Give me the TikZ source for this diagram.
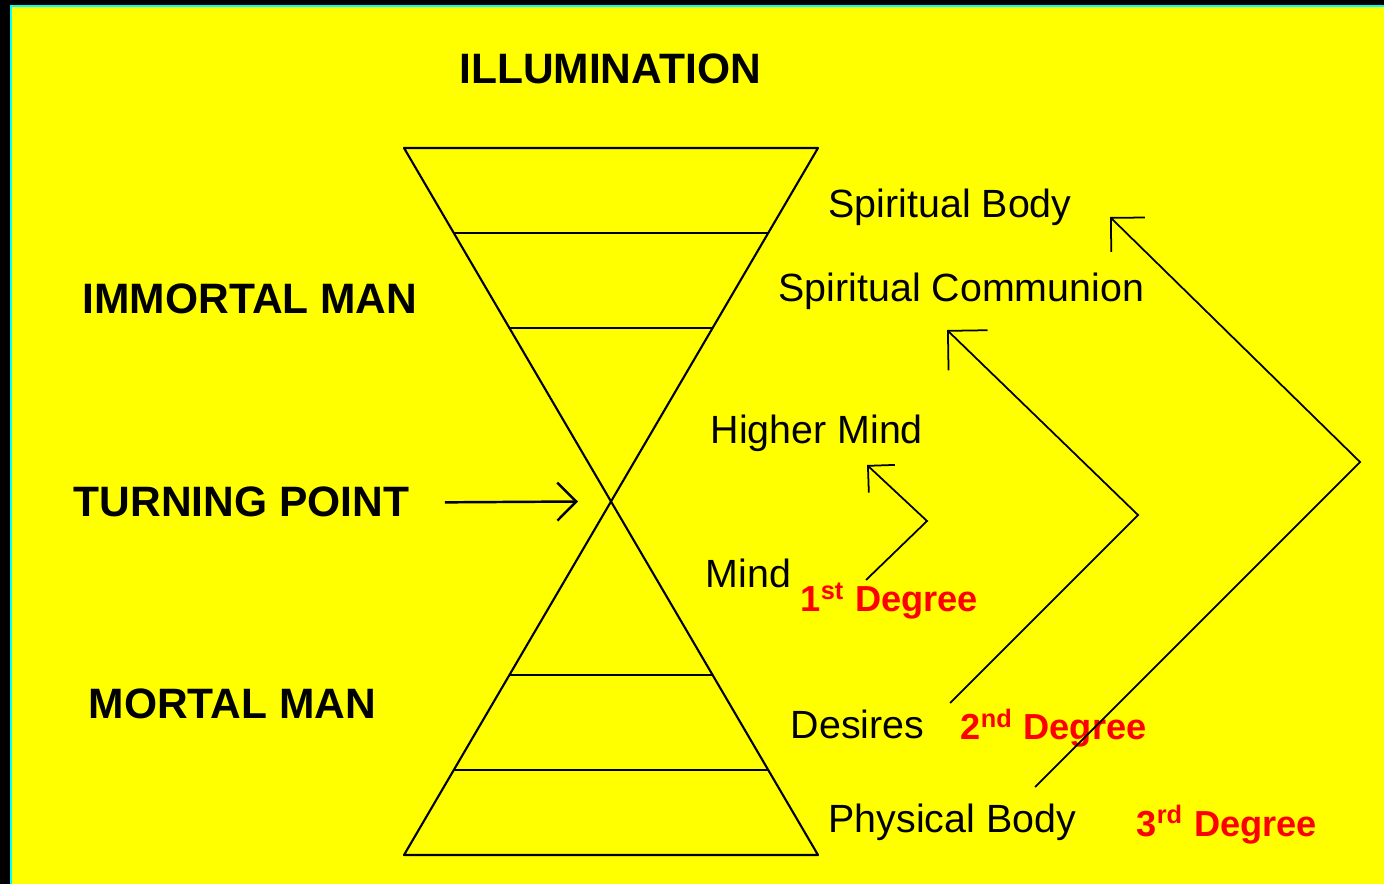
\documentclass[tikz,border=0pt]{standalone}
\usepackage{fontspec}
\setmainfont{Liberation Sans}
\usetikzlibrary{arrows.meta,calc}
\usepackage{tkz-euclide}
\definecolor{BackClr}{rgb}{1,1,0}
\definecolor{EdgeClr}{rgb}{0,1,1}
\definecolor{DegreeClr}{rgb}{1,0,0}
\tikzset{
  stage/.style={font=\fontsize{12.1}{14}\selectfont\bfseries,inner sep=0pt,anchor=base west},
  level/.style={font=\fontsize{11.2}{13}\selectfont,inner sep=0pt,anchor=base west},
  degree/.style={font=\fontsize{10.3}{12}\selectfont\bfseries,text=DegreeClr,inner sep=0pt,anchor=base west},
  rise/.style={line width=.5pt}
}

\begin{document}
\begin{tikzpicture}
\useasboundingbox (0,0) rectangle (13.84,8.84);
\fill[black] (0,0) rectangle (13.84,8.84);
\fill[EdgeClr] (.10,0) rectangle (13.84,8.79);
\fill[BackClr] (.12,0) rectangle (13.84,8.77);

\tkzSetUpLine[line width=.6pt,color=black]

% hourglass
\tkzDefPoints{4.04/7.36/A,8.18/7.36/B,4.04/0.29/C,8.18/0.29/D}
\tkzInterLL(A,D)(B,C) \tkzGetPoint{O}
\tkzDrawPolygon(A,B,C,D)
\foreach \r in {.12,.255,.745,.88}
  \draw[line width=.6pt] ($(A)!\r!(D)$) -- ($(B)!\r!(C)$);

% left labels
\node[stage,anchor=base] (ill) at (6.10,8.00) {ILLUMINATION};
\node[stage] (imm) at (0.82,5.70) {IMMORTAL MAN};
\node[stage] (tp) at (0.73,3.67) {TURNING POINT};
\node[stage] (mor) at (0.88,1.65) {MORTAL MAN};
\draw[line width=.7pt,-{Straight Barb[length=.19cm,width=.38cm]}]
  ([xshift=.35cm]tp.east) -- ([xshift=-.33cm]O);

% right labels
\node[level] (sb) at (8.28,6.66) {Spiritual Body};
\node[level] (sc) at (7.78,5.82) {Spiritual Communion};
\node[level] (hm) at (7.10,4.40) {Higher Mind};
\node[level] (mi) at (7.05,2.96) {Mind};
\node[level] (de) at (7.90,1.45) {Desires};
\node[level] (pb) at (8.28,0.52) {Physical Body};

\node[degree] (d1) at (8.00,2.72) {1\textsuperscript{st} Degree};
\node[degree] (d2) at (9.60,1.44) {2\textsuperscript{nd} Degree};
\node[degree] (d3) at (11.36,0.48) {3\textsuperscript{rd} Degree};

% degree arrows
\tkzDefPoints{8.66/3.04/S1,9.27/3.63/V1,8.67/4.19/T1}
\tkzDefPoints{9.50/1.81/S2,11.38/3.69/V2,9.47/5.54/T2}
\tkzDefPoints{10.35/0.97/S3,13.60/4.22/V3,11.10/6.67/T3}
\draw[rise,-{Straight Barb[length=.19cm,width=.38cm]}] (S1) -- (V1) -- (T1);
\draw[rise,-{Straight Barb[length=.28cm,width=.56cm]}] (S2) -- (V2) -- (T2);
\draw[rise,-{Straight Barb[length=.24cm,width=.48cm]}] (S3) -- (V3) -- (T3);

\end{tikzpicture}
\end{document}
